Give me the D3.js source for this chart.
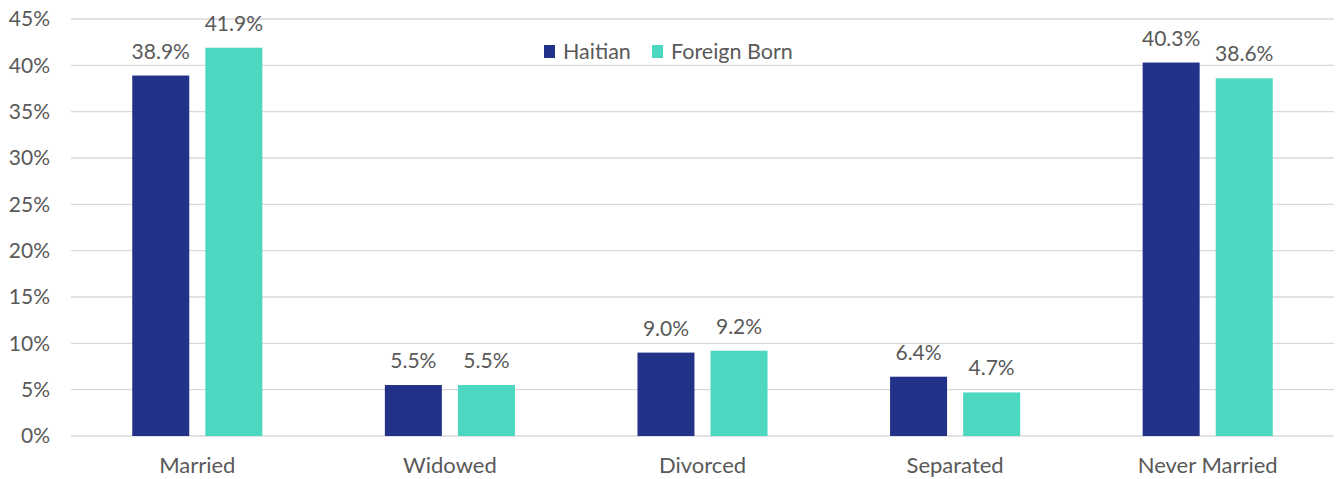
<!DOCTYPE html>
<html>
<head>
<meta charset="utf-8">
<script src="https://cdn.jsdelivr.net/npm/d3@7"></script>
<style>
  body { margin: 0; background: #ffffff; }
  text { font-family: Lato, "Open Sans", sans-serif; fill: #595959; }
</style>
</head>
<body>
<div id="chart"></div>
<script>
// Data
const categories = ["Married", "Widowed", "Divorced", "Separated", "Never Married"];
const seriesNames = ["Haitian", "Foreign Born"];
const haitianValues = [38.9, 5.5, 9.0, 6.4, 40.3];
const foreignBornValues = [41.9, 5.5, 9.2, 4.7, 38.6];
const yTicks = [0, 5, 10, 15, 20, 25, 30, 35, 40, 45];

const COLORS = ["#233289", "#4CD8C0"];
const FONT_SIZE = "21px";

const width = 1342, height = 479;
const margin = { top: 19, right: 8, bottom: 43, left: 71 };

const svg = d3.select("#chart").append("svg")
    .attr("width", width)
    .attr("height", height);

const x = d3.scaleBand()
    .domain(categories)
    .range([margin.left, width - margin.right])
    .paddingInner(0.485)
    .paddingOuter(0.2425);

const xSeries = d3.scaleBand()
    .domain(seriesNames)
    .range([0, x.bandwidth()])
    .paddingInner(0.22);

const y = d3.scaleLinear()
    .domain([0, 45])
    .range([height - margin.bottom, margin.top]);

// Grid lines
svg.append("g")
    .selectAll("line")
    .data(yTicks)
    .enter()
    .append("line")
    .attr("x1", margin.left)
    .attr("x2", width - margin.right)
    .attr("y1", d => y(d))
    .attr("y2", d => y(d))
    .attr("stroke", "#d9d9d9")
    .attr("stroke-width", 1.3);

// Y axis labels
const yAxis = svg.append("g")
    .attr("transform", `translate(${margin.left}, 0)`)
    .call(d3.axisLeft(y).tickValues(yTicks).tickSize(0).tickPadding(21).tickFormat(d => d + "%"));
yAxis.select(".domain").remove();
yAxis.selectAll("text")
    .style("font-family", "Lato, 'Open Sans', sans-serif")
    .style("font-size", FONT_SIZE)
    .attr("fill", "#595959");

// X axis labels
const xAxis = svg.append("g")
    .attr("transform", `translate(0, ${height - margin.bottom})`)
    .call(d3.axisBottom(x).tickSize(0).tickPadding(21));
xAxis.select(".domain").remove();
xAxis.selectAll("text")
    .style("font-family", "Lato, 'Open Sans', sans-serif")
    .style("font-size", "22px")
    .attr("fill", "#595959");

// Bars
const rows = categories.map((c, i) => ({
    category: c,
    values: [haitianValues[i], foreignBornValues[i]]
}));

const groups = svg.selectAll(".group")
    .data(rows)
    .enter()
    .append("g")
    .attr("class", "group")
    .attr("transform", d => `translate(${x(d.category)},0)`);

groups.selectAll("rect")
    .data(d => d.values.map((v, i) => ({ series: seriesNames[i], value: v, idx: i })))
    .enter()
    .append("rect")
    .attr("x", d => xSeries(d.series))
    .attr("y", d => y(d.value))
    .attr("width", xSeries.bandwidth())
    .attr("height", d => y(0) - y(d.value))
    .attr("fill", d => COLORS[d.idx]);

groups.selectAll(".value-label")
    .data(d => d.values.map((v, i) => ({ series: seriesNames[i], value: v })))
    .enter()
    .append("text")
    .attr("class", "value-label")
    .attr("x", d => xSeries(d.series) + xSeries.bandwidth() / 2)
    .attr("y", d => y(d.value) - 17)
    .attr("text-anchor", "middle")
    .style("font-size", FONT_SIZE)
    .text(d => d.value.toFixed(1) + "%");

// Legend
const legend = svg.append("g")
    .attr("transform", "translate(544, 45)");

const legendOffsets = [0, 108];
seriesNames.forEach((name, i) => {
    const g = legend.append("g").attr("transform", `translate(${legendOffsets[i]},0)`);
    g.append("rect")
        .attr("width", 11)
        .attr("height", 13)
        .attr("fill", COLORS[i]);
    g.append("text")
        .attr("x", 19)
        .attr("y", 14)
        .style("font-size", "21.5px")
        .text(name);
});
</script>
</body>
</html>
